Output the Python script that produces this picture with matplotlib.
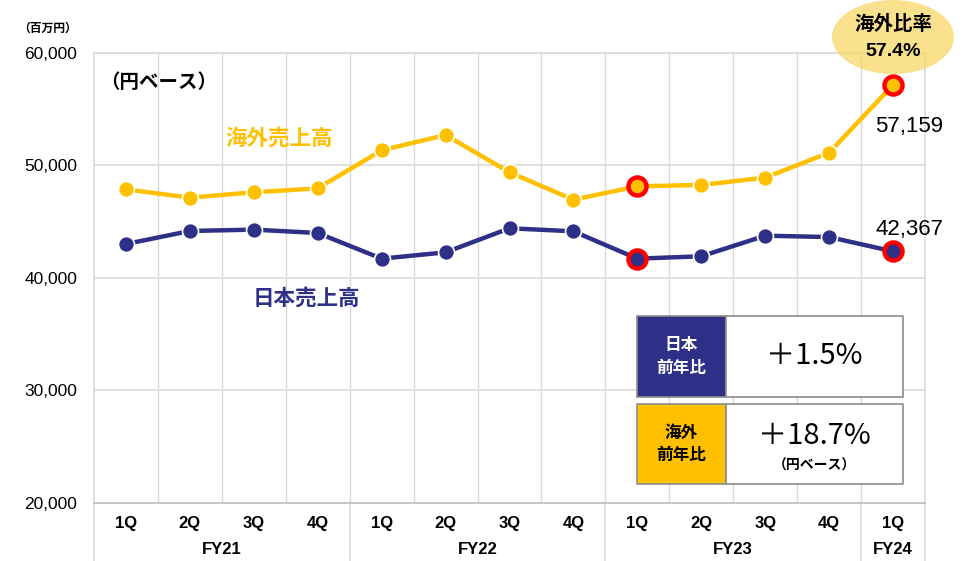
import matplotlib
matplotlib.use('Agg')
import matplotlib.pyplot as plt
import matplotlib.patches as patches
import numpy as np

# fonts: Japanese bold + latin fallback
JP = ['Noto Sans CJK JP', 'DejaVu Sans']
NUM = ['Liberation Sans', 'Noto Sans CJK JP']
NARROW = ['Liberation Sans Narrow', 'Liberation Sans', 'Noto Sans CJK JP']
plt.rcParams['font.family'] = JP

# data (百万円)
quarters = ['1Q', '2Q', '3Q', '4Q', '1Q', '2Q', '3Q', '4Q', '1Q', '2Q', '3Q', '4Q', '1Q']
years = ['FY21', 'FY22', 'FY23', 'FY24']
year_sizes = [4, 4, 4, 1]
overseas = [47880, 47140, 47620, 47970, 51350, 52710, 49390, 46960,
            48150, 48270, 48920, 51140, 57159]
japan = [43020, 44180, 44300, 44000, 41720, 42280, 44420, 44150,
         41720, 41930, 43760, 43640, 42367]
highlight = [8, 12]   # ringed points (FY23 1Q, FY24 1Q)
yticks = [20000, 30000, 40000, 50000, 60000]

YELLOW = '#FFC000'
NAVY = '#2E3087'
GRID = '#D9D9D9'

W, H = 973, 561
fig = plt.figure(figsize=(W / 100, H / 100), dpi=100)
ax = fig.add_axes([94 / W, 1 - 503 / H, (925 - 94) / W, (503 - 53) / H])


def px(x, y):
    # pixel position -> figure fraction
    return x / W, 1 - y / H


x = np.arange(len(quarters))
ax.set_xlim(-0.5, len(quarters) - 0.5)
ax.set_ylim(20000, 60000)

# grid
for k in range(1, len(quarters)):
    ax.axvline(k - 0.5, color=GRID, lw=1, zorder=0)
for v in yticks:
    ax.axhline(v, color=GRID, lw=1.2, zorder=0)
for s in ax.spines.values():
    s.set_color(GRID)
    s.set_linewidth(1.2)
ax.spines['bottom'].set_color('#BFBFBF')

ax.set_xticks([])
ax.set_yticks(yticks)
ax.set_yticklabels([f'{v:,}' for v in yticks], fontsize=12.5, family=NUM)
ax.tick_params(axis='y', length=0, pad=12)

# lines
for vals, col in [(overseas, YELLOW), (japan, NAVY)]:
    ax.plot(x, vals, color=col, lw=3.2, marker='o', ms=11.5,
            mfc=col, mec='white', mew=1.2, zorder=3)
    hx = [x[i] for i in highlight]
    hy = [vals[i] for i in highlight]
    ax.plot(hx, hy, ls='none', marker='o', ms=13, mfc=col,
            mec='#FF0000', mew=3.2, zorder=4)

# category axis below plot
for i, q in enumerate(quarters):
    ax.text(x[i], -0.045, q, transform=ax.get_xaxis_transform(), ha='center',
            va='center', fontsize=12, fontweight='bold', family=NARROW)
start = 0
bounds = [-0.5]
for name, n in zip(years, year_sizes):
    ax.text(start + (n - 1) / 2, -0.103, name, transform=ax.get_xaxis_transform(),
            ha='center', va='center', fontsize=12, fontweight='bold', family=NARROW)
    start += n
    bounds.append(start - 0.5)
for b in bounds:
    ax.plot([b, b], [0, -0.14], transform=ax.get_xaxis_transform(),
            color=GRID, lw=1.2, clip_on=False)

# labels
ax.text(*px(18, 28), '（百万円）', transform=fig.transFigure, fontsize=8.5,
        fontweight='bold', ha='left', va='center')
ax.text(*px(100, 83), '（円ベース）', transform=fig.transFigure, fontsize=14,
        fontweight='bold', ha='left', va='center')
ax.text(*px(279, 138), '海外売上高', transform=fig.transFigure, fontsize=15.5,
        fontweight='bold', color=YELLOW, ha='center', va='center')
ax.text(*px(306, 298), '日本売上高', transform=fig.transFigure, fontsize=15.5,
        fontweight='bold', color=NAVY, ha='center', va='center')

ax.annotate(f'{overseas[-1]:,}', (x[-1], overseas[-1]), xytext=(16, -42),
            textcoords='offset pixels', ha='center', va='center',
            fontsize=16, family=NUM, annotation_clip=False)
ax.annotate(f'{japan[-1]:,}', (x[-1], japan[-1]), xytext=(16, 22),
            textcoords='offset pixels', ha='center', va='center',
            fontsize=16, family=NUM, annotation_clip=False)

# ratio bubble
cx, cy = px(893, 37)
fig.patches.append(patches.Ellipse((cx, cy), 122 / W, 74 / H, transform=fig.transFigure,
                                   facecolor='#F9D867', alpha=0.75, edgecolor='none', zorder=5))
ratio = overseas[-1] / (overseas[-1] + japan[-1]) * 100
fig.text(*px(893, 24), '海外比率', fontsize=14, fontweight='bold', ha='center',
         va='center', zorder=6)
fig.text(*px(893, 51), f'{ratio:.1f}%', fontsize=14, fontweight='bold', ha='center',
         va='center', zorder=6, family=NUM)

# YoY boxes
boxes = [(316, 397, NAVY, 'white', '日本\n前年比', '＋1.5%', None),
         (404, 484, YELLOW, 'black', '海外\n前年比', '＋18.7%', '（円ベース）')]
for top, bot, col, tcol, lab, val, sub in boxes:
    x0, y0 = px(637, bot)
    x1, _ = px(726, bot)
    x2, y1 = px(903, top)
    fig.patches.append(patches.Rectangle((x0, y0), x1 - x0, y1 - y0, transform=fig.transFigure,
                                         facecolor=col, edgecolor='#8C8C8C', lw=1.2, zorder=5))
    fig.patches.append(patches.Rectangle((x1, y0), x2 - x1, y1 - y0, transform=fig.transFigure,
                                         facecolor='white', edgecolor='#8C8C8C', lw=1.2, zorder=5))
    mid = (top + bot) / 2
    fig.text(*px(681, mid), lab, color=tcol, fontsize=12, fontweight='bold',
             ha='center', va='center', linespacing=1.35, zorder=6)
    if sub is None:
        fig.text(*px(814, mid), val, fontsize=21, ha='center', va='center', zorder=6)
    else:
        fig.text(*px(814, mid - 8), val, fontsize=21, ha='center', va='center', zorder=6)
        fig.text(*px(814, mid + 22), sub, fontsize=10, fontweight='bold',
                 ha='center', va='center', zorder=6)

fig.savefig('out.png', dpi=100)
